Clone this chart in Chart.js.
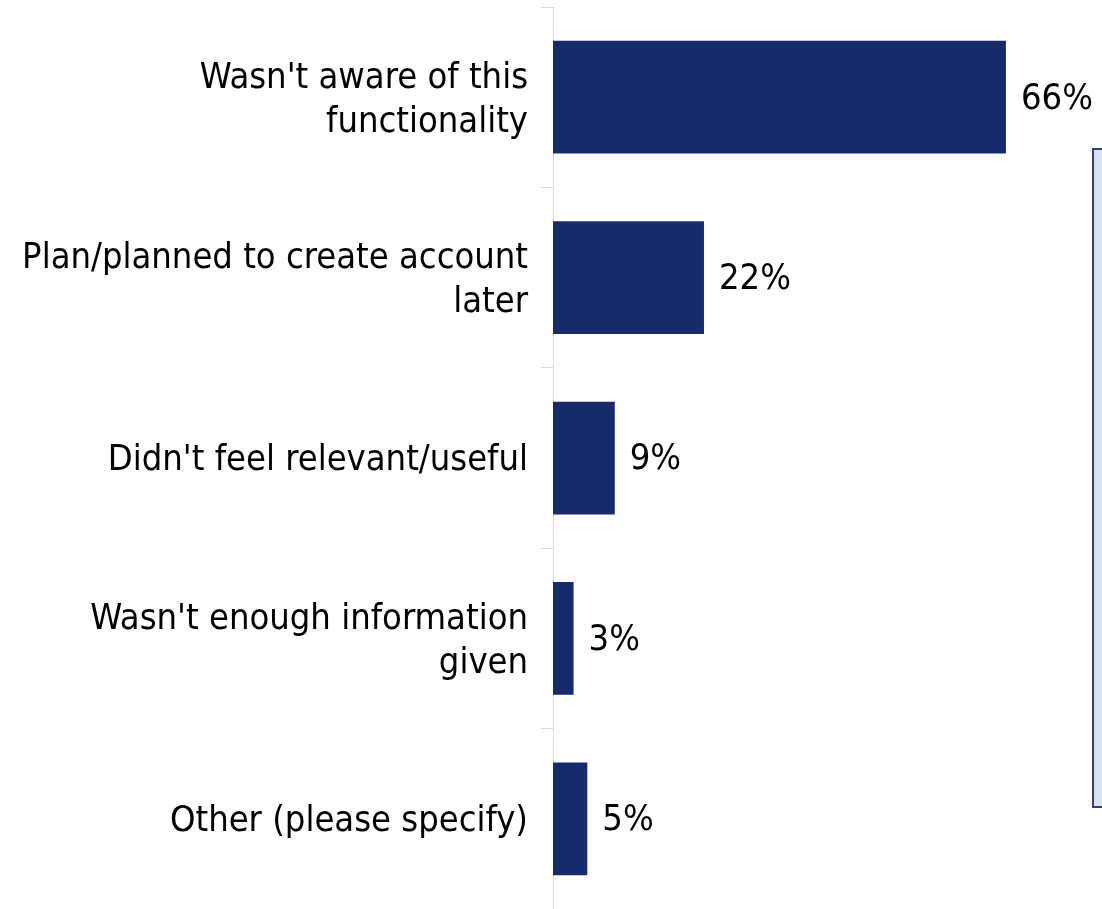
<!DOCTYPE html>
<html>
<head>
<meta charset="utf-8">
<script src="https://cdn.jsdelivr.net/npm/chart.js@4/dist/chart.umd.min.js"></script>
<style>
  html, body { margin: 0; padding: 0; background: #FFFFFF; }
  #wrap { position: relative; width: 1102px; height: 909px; }
</style>
</head>
<body>
<div id="wrap"><canvas id="reasons"></canvas></div>
<script>
const categories = [
  ["Wasn't aware of this", "functionality"],
  ["Plan/planned to create account", "later"],
  "Didn't feel relevant/useful",
  ["Wasn't enough information", "given"],
  "Other (please specify)"
];
const shares = [66, 22, 9, 3, 5];

const FONT = "'DejaVu Sans Condensed', 'DejaVu Sans', sans-serif";
const NAVY = "#172A6A";

// value labels to the right of each bar
const barLabels = {
  id: "barLabels",
  afterDatasetsDraw(chart) {
    const ctx = chart.ctx;
    const meta = chart.getDatasetMeta(0);
    ctx.save();
    ctx.font = "36px " + FONT;
    ctx.fillStyle = "#000000";
    ctx.textAlign = "left";
    ctx.textBaseline = "middle";
    meta.data.forEach((bar, i) => {
      ctx.fillText(shares[i] + "%", bar.x + 15, bar.y + 2);
    });
    ctx.restore();
  }
};

// light blue note box sitting at the right edge
const sideBox = {
  id: "sideBox",
  afterDraw(chart) {
    const ctx = chart.ctx;
    ctx.save();
    ctx.fillStyle = "#DAE3F3";
    ctx.fillRect(1093, 149, 20, 658);
    ctx.strokeStyle = "#2F4375";
    ctx.lineWidth = 2;
    ctx.strokeRect(1093, 149, 20, 658);
    ctx.restore();
  }
};

new Chart(document.getElementById("reasons"), {
  type: "bar",
  data: {
    labels: categories,
    datasets: [
      {
        data: shares,
        backgroundColor: NAVY,
        borderWidth: 0,
        categoryPercentage: 1,
        barPercentage: 0.625
      }
    ]
  },
  options: {
    indexAxis: "y",
    responsive: true,
    maintainAspectRatio: false,
    animation: false,
    layout: {
      padding: { top: 7, right: 0, bottom: 0, left: 0 }
    },
    scales: {
      x: {
        display: false,
        min: 0,
        max: 80
      },
      y: {
        afterFit(scale) {
          scale.width = 553;
          scale.paddingTop = 0;
          scale.paddingBottom = 0;
        },
        border: { display: true, color: "#D9D9D9", width: 1 },
        grid: {
          offset: true,
          drawOnChartArea: false,
          drawTicks: true,
          tickLength: 12,
          color: "#D9D9D9"
        },
        ticks: {
          color: "#000000",
          padding: 13,
          labelOffset: 3,
          font: { family: FONT, size: 36, lineHeight: 1.22 }
        }
      }
    },
    plugins: {
      legend: { display: false },
      tooltip: { enabled: false }
    }
  },
  plugins: [barLabels, sideBox]
});
</script>
</body>
</html>
